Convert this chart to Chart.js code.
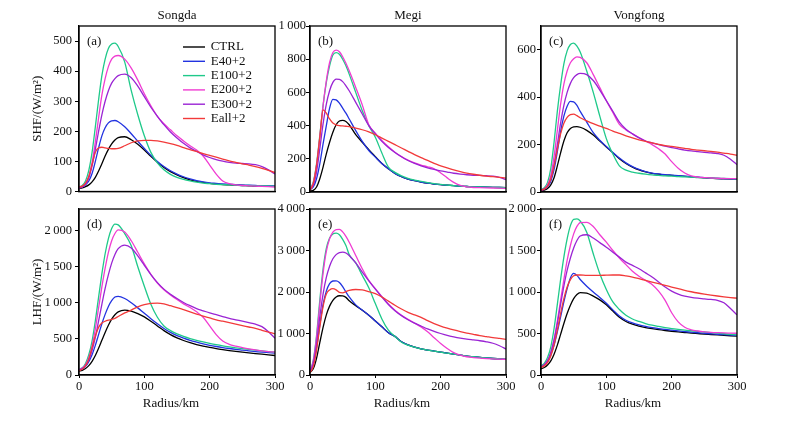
<!DOCTYPE html>
<html><head><meta charset="utf-8">
<script src="https://cdn.jsdelivr.net/npm/chart.js@4.4.1/dist/chart.umd.min.js"></script>
<style>
html,body{margin:0;padding:0;background:#fff;width:798px;height:424px;overflow:hidden;position:relative}
canvas{position:absolute}
</style></head><body>
<canvas id="cA"></canvas><canvas id="cB"></canvas><canvas id="cC"></canvas>
<canvas id="cD"></canvas><canvas id="cE"></canvas><canvas id="cF"></canvas>
<script>
// ---- data ----
const radius = [0,5,10,15,20,25,30,35,40,45,50,55,60,70,80,90,100,110,120,130,140,150,160,170,180,190,200,210,220,230,240,250,260,270,280,290,300];
const seriesNames = ['CTRL','E40+2','E100+2','E200+2','E300+2','Eall+2'];
const seriesColors = ['#000000','#2233e0','#1fc98a','#f03cd2','#9a24d4','#f23a3a'];
const xTickValues = [0,100,200,300];
const yTicksA = [0,100,200,300,400,500];
const yTicksB = [0,200,400,600,800,1000];
const yTicksC = [0,200,400,600];
const yTicksD = [0,500,1000,1500,2000];
const yTicksE = [0,1000,2000,3000,4000];
const yTicksF = [0,500,1000,1500,2000];

// (a) Songda SHF
const songdaSHF_CTRL  = [10,12,16,22,32,47,68,92,118,140,158,171,179,182,172,157,138,117,97,80,66,55,46,39,34,30,27,25,23,22,21,20,19,18,18,17,17];
const songdaSHF_E40   = [12,15,22,35,60,100,145,185,212,228,235,236,232,215,192,167,143,120,100,83,69,58,49,42,36,32,29,27,25,24,23,22,21,20,19,19,18];
const songdaSHF_E100  = [14,20,35,70,130,215,305,385,440,475,490,493,482,430,335,255,185,130,95,72,57,47,40,35,31,28,26,24,23,22,21,20,20,19,19,18,17];
const songdaSHF_E200  = [12,16,26,50,95,165,245,320,375,415,440,450,452,440,410,370,325,285,250,225,205,185,168,152,138,118,88,58,35,26,22,20,19,18,17,16,15];
const songdaSHF_E300  = [12,15,24,45,85,140,200,255,300,335,360,375,385,390,378,350,315,280,250,222,198,178,160,145,133,122,113,106,101,97,94,93,92,89,83,72,58];
const songdaSHF_Eall  = [15,18,28,50,90,130,145,147,145,143,142,142,143,152,162,168,170,170,168,164,159,153,146,139,133,126,120,114,108,102,97,92,88,83,77,70,63];
// (b) Megi SHF
const megiSHF_CTRL    = [5,10,30,80,150,230,300,360,405,428,432,425,405,345,300,255,213,172,140,112,92,78,68,60,53,48,44,41,38,35,33,31,30,29,28,27,26];
const megiSHF_E40     = [15,30,80,170,290,400,505,558,555,535,505,475,440,370,305,250,210,172,140,112,92,78,68,60,53,48,44,41,38,35,33,31,30,29,28,27,26];
const megiSHF_E100    = [20,60,170,340,520,660,760,825,840,830,800,760,710,600,490,400,330,235,150,118,97,82,72,64,57,51,46,42,38,35,33,31,30,29,28,27,26];
const megiSHF_E200    = [20,55,160,330,520,670,780,840,855,845,815,775,730,630,525,405,355,310,272,240,213,192,175,162,152,140,115,85,58,40,31,27,26,25,24,23,22];
const megiSHF_E300    = [15,40,120,260,410,530,610,660,680,678,665,640,610,540,470,400,350,305,268,238,212,190,172,158,146,136,127,120,113,108,104,101,100,98,95,88,75];
const megiSHF_Eall    = [10,50,160,330,495,475,440,415,405,400,398,396,394,385,375,362,345,325,305,285,265,245,225,207,190,172,158,145,133,123,114,107,101,96,92,88,84];
// (c) Vongfong SHF
const vongfongSHF_CTRL = [5,8,15,30,60,110,165,215,250,268,275,276,273,260,240,215,190,165,140,120,105,93,85,79,75,72,70,68,66,64,62,60,58,56,55,54,53];
const vongfongSHF_E40  = [8,12,22,45,95,170,255,320,362,382,380,365,340,295,250,218,192,167,143,123,107,95,86,80,76,73,71,69,67,65,63,61,59,57,56,55,54];
const vongfongSHF_E100 = [10,18,40,100,210,340,450,540,595,622,628,615,590,510,420,320,225,160,110,92,84,79,75,72,70,68,67,65,64,63,61,60,59,58,57,56,55];
const vongfongSHF_E200 = [8,14,30,70,150,260,370,455,510,545,562,570,568,545,495,440,385,335,285,262,245,230,215,200,182,160,128,100,80,68,63,61,59,58,57,56,56];
const vongfongSHF_E300 = [8,12,25,55,115,200,290,365,420,458,482,495,500,495,470,430,385,340,295,265,245,228,215,207,200,193,187,182,177,173,170,167,165,162,155,138,115];
const vongfongSHF_Eall = [8,12,25,55,110,180,245,290,315,326,328,322,313,300,288,278,268,257,247,237,228,220,213,207,201,196,192,188,184,180,177,174,171,168,164,160,155];
// (d) Songda LHF
const songdaLHF_CTRL  = [55,65,90,130,190,270,370,480,590,690,775,835,875,900,885,850,805,745,680,615,560,515,478,448,422,400,382,366,352,339,327,316,306,297,288,279,270];
const songdaLHF_E40   = [70,85,120,185,280,410,560,710,840,950,1030,1080,1090,1060,1000,930,855,780,710,645,590,545,510,480,455,432,412,395,380,367,355,345,335,325,317,310,303];
const songdaLHF_E100  = [80,100,160,280,470,750,1080,1400,1680,1890,2030,2090,2080,1960,1790,1500,1230,980,800,680,615,570,535,505,480,458,438,420,404,390,377,365,354,344,334,325,316];
const songdaLHF_E200  = [75,95,140,240,400,640,930,1220,1480,1700,1860,1960,2010,1980,1860,1700,1540,1395,1275,1180,1110,1045,985,935,875,800,680,560,470,425,400,380,362,347,335,325,318];
const songdaLHF_E300  = [70,90,130,210,340,520,750,980,1200,1390,1550,1670,1750,1800,1760,1650,1520,1390,1280,1190,1120,1060,1005,960,920,890,860,835,810,785,765,745,725,705,670,600,510];
const songdaLHF_Eall  = [60,80,130,220,380,540,660,720,745,760,770,785,810,860,900,945,975,993,995,985,960,935,905,875,845,815,790,765,745,725,705,685,665,645,620,595,570];
// (e) Megi LHF
const megiLHF_CTRL    = [60,150,400,780,1150,1450,1660,1800,1880,1910,1905,1870,1790,1670,1560,1440,1300,1160,1020,930,800,725,672,632,602,577,552,527,505,480,456,440,425,410,398,388,378];
const megiLHF_E40     = [80,250,650,1200,1700,2020,2200,2265,2270,2230,2130,2000,1880,1690,1565,1440,1300,1160,1020,930,800,725,672,632,602,577,552,527,505,480,456,440,425,410,398,388,378];
const megiLHF_E100    = [100,350,950,1800,2550,3050,3300,3400,3420,3380,3270,3120,2900,2700,2400,2100,1720,1350,1080,930,790,720,670,630,600,575,550,525,505,480,455,440,425,410,398,388,378];
const megiLHF_E200    = [100,330,900,1700,2450,2980,3280,3440,3505,3510,3450,3340,3200,2880,2560,2280,2080,1890,1710,1560,1440,1340,1250,1160,1040,900,760,640,540,480,440,420,405,395,388,382,376];
const megiLHF_E300    = [90,280,750,1400,1950,2350,2620,2800,2900,2950,2960,2940,2880,2700,2480,2270,2070,1880,1700,1550,1430,1330,1250,1180,1110,1050,1000,955,920,890,865,845,825,800,765,705,625];
const megiLHF_Eall    = [60,200,600,1150,1650,1950,2050,2080,2050,1990,1980,2010,2040,2060,2050,2010,1960,1880,1780,1680,1590,1510,1450,1390,1310,1240,1180,1130,1085,1045,1010,980,950,925,900,880,860];
// (f) Vongfong LHF
const vongfongLHF_CTRL = [75,90,120,170,250,360,490,620,740,840,920,970,993,985,950,905,845,770,695,645,612,590,572,558,546,536,527,519,512,505,499,493,488,483,478,473,468];
const vongfongLHF_E40  = [100,120,165,240,360,520,700,880,1040,1170,1225,1200,1150,1070,1000,935,865,785,710,660,628,605,587,572,560,549,540,531,523,516,509,503,497,491,486,481,476];
const vongfongLHF_E100 = [110,140,210,340,560,850,1150,1420,1640,1800,1875,1880,1855,1720,1460,1220,1030,880,790,720,675,645,620,600,585,572,560,550,541,533,525,518,511,504,497,490,483];
const vongfongLHF_E200 = [100,120,170,270,430,650,900,1150,1380,1560,1700,1790,1835,1840,1790,1690,1600,1500,1410,1330,1250,1190,1140,1090,1010,900,750,640,575,545,530,520,514,510,507,505,503];
const vongfongLHF_E300 = [100,125,175,270,420,620,850,1070,1260,1410,1530,1620,1675,1690,1650,1595,1540,1480,1420,1360,1320,1280,1230,1180,1120,1060,1010,975,950,935,925,918,910,900,870,800,725];
const vongfongLHF_Eall = [90,110,150,230,360,540,740,920,1060,1150,1195,1205,1205,1200,1200,1200,1203,1205,1205,1195,1180,1160,1140,1120,1100,1080,1060,1040,1020,1003,988,975,963,952,942,933,925];

// ---- layout ----
const FONT = '"Liberation Serif","Times New Roman",serif';
const TXT = '#111';
const colX = [79, 310, 541];
const rowY = [26, 209];
const PW = 196, PH = 166;
const L = 49, R = 14;
const rowT = [26, 12], rowB = [10, 37];

const panels = [
  {id:'cA', row:0, col:0, series:[songdaSHF_CTRL,songdaSHF_E40,songdaSHF_E100,songdaSHF_E200,songdaSHF_E300,songdaSHF_Eall], yMax:550, yTicks:yTicksA, label:'(a)', title:'Songda', yTitle:'SHF/(W/m²)', legend:true, labPad:3},
  {id:'cB', row:0, col:1, series:[megiSHF_CTRL,megiSHF_E40,megiSHF_E100,megiSHF_E200,megiSHF_E300,megiSHF_Eall], yMax:1000, yTicks:yTicksB, label:'(b)', title:'Megi', labPad:0},
  {id:'cC', row:0, col:2, series:[vongfongSHF_CTRL,vongfongSHF_E40,vongfongSHF_E100,vongfongSHF_E200,vongfongSHF_E300,vongfongSHF_Eall], yMax:700, yTicks:yTicksC, label:'(c)', title:'Vongfong', labPad:1},
  {id:'cD', row:1, col:0, series:[songdaLHF_CTRL,songdaLHF_E40,songdaLHF_E100,songdaLHF_E200,songdaLHF_E300,songdaLHF_Eall], yMax:2300, yTicks:yTicksD, label:'(d)', yTitle:'LHF/(W/m²)', xTitle:'Radius/km', labPad:3},
  {id:'cE', row:1, col:1, series:[megiLHF_CTRL,megiLHF_E40,megiLHF_E100,megiLHF_E200,megiLHF_E300,megiLHF_Eall], yMax:4000, yTicks:yTicksE, label:'(e)', xTitle:'Radius/km', labPad:1},
  {id:'cF', row:1, col:2, series:[vongfongLHF_CTRL,vongfongLHF_E40,vongfongLHF_E100,vongfongLHF_E200,vongfongLHF_E300,vongfongLHF_Eall], yMax:2000, yTicks:yTicksF, label:'(f)', xTitle:'Radius/km', labPad:1}
];

function fmt(v){
  v = Math.round(v);
  if (v >= 1000) { const s = String(v); return s.slice(0, s.length-3) + '\u2009' + s.slice(-3); }
  return String(v);
}

const annot = {
  id:'annot',
  afterDraw(chart, args, o){
    const {ctx, chartArea:a} = chart;
    ctx.save();
    ctx.strokeStyle = '#000'; ctx.lineWidth = 1.3;
    ctx.strokeRect(a.left, a.top, a.right - a.left, a.bottom - a.top);
    ctx.fillStyle = TXT; ctx.font = '13px ' + FONT; ctx.textBaseline = 'middle';
    ctx.textAlign = 'left';
    ctx.fillText(o.label, a.left + 8, a.top + 16);
    if (o.title) { ctx.textAlign = 'center'; ctx.fillText(o.title, (a.left + a.right)/2, a.top - 10.5); }
    if (o.xTitle) { ctx.textAlign = 'center'; ctx.fillText(o.xTitle, (a.left + a.right)/2 - 6, a.bottom + 28.5); }
    if (o.legend) {
      chart.data.datasets.forEach((ds, i) => {
        const y = a.top + 21 + 14.3 * i;
        ctx.strokeStyle = ds.borderColor; ctx.lineWidth = 1.4;
        ctx.beginPath(); ctx.moveTo(a.left + 104, y); ctx.lineTo(a.left + 126, y); ctx.stroke();
        ctx.fillStyle = TXT; ctx.textAlign = 'left';
        ctx.fillText(ds.label, a.left + 131.7, y);
      });
    }
    ctx.restore();
  }
};

panels.forEach(p => {
  const T = rowT[p.row], B = rowB[p.row];
  const w = L + PW + R, h = T + PH + B;
  const cv = document.getElementById(p.id);
  cv.width = w; cv.height = h;
  cv.style.width = w + 'px'; cv.style.height = h + 'px';
  cv.style.left = (colX[p.col] - L) + 'px';
  cv.style.top = (rowY[p.row] - T) + 'px';
  const bottom = p.row === 1;
  new Chart(cv, {
    type:'line',
    data:{
      datasets: p.series.map((vals, i) => ({
        label: seriesNames[i],
        borderColor: seriesColors[i],
        backgroundColor: seriesColors[i],
        order: -i,
        data: radius.map((r, k) => ({x:r, y:vals[k]}))
      }))
    },
    options:{
      responsive:false, animation:false, events:[],
      layout:{padding:{left:0, right:R, top:T, bottom:0}},
      elements:{point:{radius:0}, line:{borderWidth:1.3, cubicInterpolationMode:'monotone'}},
      plugins:{legend:{display:false}, tooltip:{enabled:false}, title:{display:false},
        annot:{label:p.label, title:p.title, xTitle:p.xTitle, legend:!!p.legend}},
      scales:{
        x:{type:'linear', min:0, max:300,
          afterBuildTicks(s){ s.ticks = xTickValues.map(v => ({value:v})); },
          ticks:{display:bottom, font:{family:FONT, size:12.5}, color:TXT, padding:1, maxRotation:0},
          grid:{drawOnChartArea:false, drawTicks:bottom, tickLength:3, color:'#000'},
          border:{color:'#000', width:1.3},
          afterFit(s){ s.height = B; }
        },
        y:{type:'linear', min:0, max:p.yMax,
          afterBuildTicks(s){ s.ticks = p.yTicks.map(v => ({value:v})); },
          ticks:{callback:(v)=>fmt(v), font:{family:FONT, size:12.5}, color:TXT, padding:p.labPad},
          grid:{drawOnChartArea:false, tickLength:4, color:'#000'},
          border:{color:'#000', width:1.3},
          title:{display:!!p.yTitle, text:p.yTitle || '', font:{family:FONT, size:13}, color:TXT, padding:0},
          afterFit(s){ s.width = L; }
        }
      }
    },
    plugins:[annot]
  });
});
</script>
</body></html>
